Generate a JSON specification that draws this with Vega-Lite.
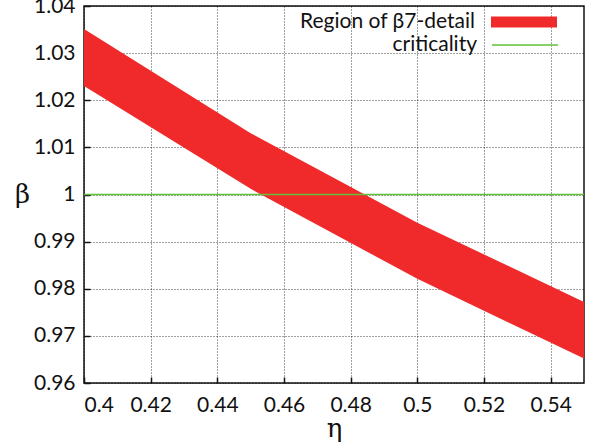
{
  "$schema": "https://vega.github.io/schema/vega-lite/v6.json",
  "width": 500,
  "height": 377,
  "autosize": "none",
  "padding": {"left": 84, "top": 6, "right": 16, "bottom": 64},
  "background": "white",
  "config": {
    "font": "Lato",
    "view": {"stroke": "#111", "strokeWidth": 1.5},
    "axis": {
      "domain": false,
      "grid": true,
      "gridColor": "#000",
      "gridDash": [1, 2],
      "gridOpacity": 0.75,
      "gridWidth": 1,
      "ticks": true,
      "tickColor": "#111",
      "tickWidth": 1.5,
      "tickSize": -6,
      "labelFont": "Lato",
      "labelFontSize": 21,
      "labelColor": "#111",
      "titleFont": "DejaVu Serif",
      "titleFontWeight": "normal",
      "titleFontSize": 26,
      "titleColor": "#111"
    }
  },
  "layer": [
    {
      "data": {
        "values": [
          {"eta": 0.40, "lower": 1.0230, "upper": 1.0351, "series": "Region of β7-detail"},
          {"eta": 0.45, "lower": 1.0012, "upper": 1.0130, "series": "Region of β7-detail"},
          {"eta": 0.50, "lower": 0.9821, "upper": 0.9940, "series": "Region of β7-detail"},
          {"eta": 0.55, "lower": 0.9652, "upper": 0.9772, "series": "Region of β7-detail"}
        ]
      },
      "mark": {"type": "area", "opacity": 1, "clip": true},
      "encoding": {
        "x": {
          "field": "eta",
          "type": "quantitative",
          "scale": {"domain": [0.4, 0.55], "nice": false, "zero": false},
          "axis": {
            "title": "η",
            "values": [0.4, 0.42, 0.44, 0.46, 0.48, 0.5, 0.52, 0.54],
            "format": "~g",
            "labelPadding": 17,
            "titlePadding": 0
          }
        },
        "y": {
          "field": "lower",
          "type": "quantitative",
          "scale": {"domain": [0.96, 1.04], "nice": false, "zero": false},
          "axis": {
            "title": "β",
            "titleAngle": 0,
            "titleAlign": "center",
            "titleBaseline": "middle",
            "titleX": -62,
            "titleY": 188,
            "values": [0.96, 0.97, 0.98, 0.99, 1, 1.01, 1.02, 1.03, 1.04],
            "format": "~g",
            "labelPadding": 15
          }
        },
        "y2": {"field": "upper"},
        "fill": {
          "field": "series",
          "type": "nominal",
          "scale": {"range": ["#f02a2a"]},
          "legend": {
            "title": null,
            "orient": "none",
            "legendX": 407,
            "legendY": -17,
            "padding": 0,
            "symbolType": "M-1,-0.1667H1V0.1667H-1Z",
            "symbolSize": 4356,
            "symbolStrokeWidth": 0,
            "symbolOpacity": 1,
            "labelAlign": "right",
            "labelOffset": -82,
            "labelFont": "Lato",
            "labelFontSize": 21,
            "labelColor": "#111",
            "labelLimit": 400
          }
        }
      }
    },
    {
      "data": {"values": [{"beta": 1, "series": "criticality"}]},
      "mark": {"type": "rule", "strokeWidth": 1.5},
      "encoding": {
        "y": {"field": "beta", "type": "quantitative"},
        "stroke": {
          "field": "series",
          "type": "nominal",
          "scale": {"range": ["#62c03a"]},
          "legend": {
            "title": null,
            "orient": "none",
            "legendX": 407,
            "legendY": 5,
            "padding": 0,
            "symbolType": "M-1,0H1",
            "symbolSize": 4356,
            "symbolStrokeWidth": 1.5,
            "labelAlign": "right",
            "labelOffset": -82,
            "labelFont": "Lato",
            "labelFontSize": 21,
            "labelColor": "#111",
            "labelLimit": 400
          }
        }
      }
    }
  ]
}
